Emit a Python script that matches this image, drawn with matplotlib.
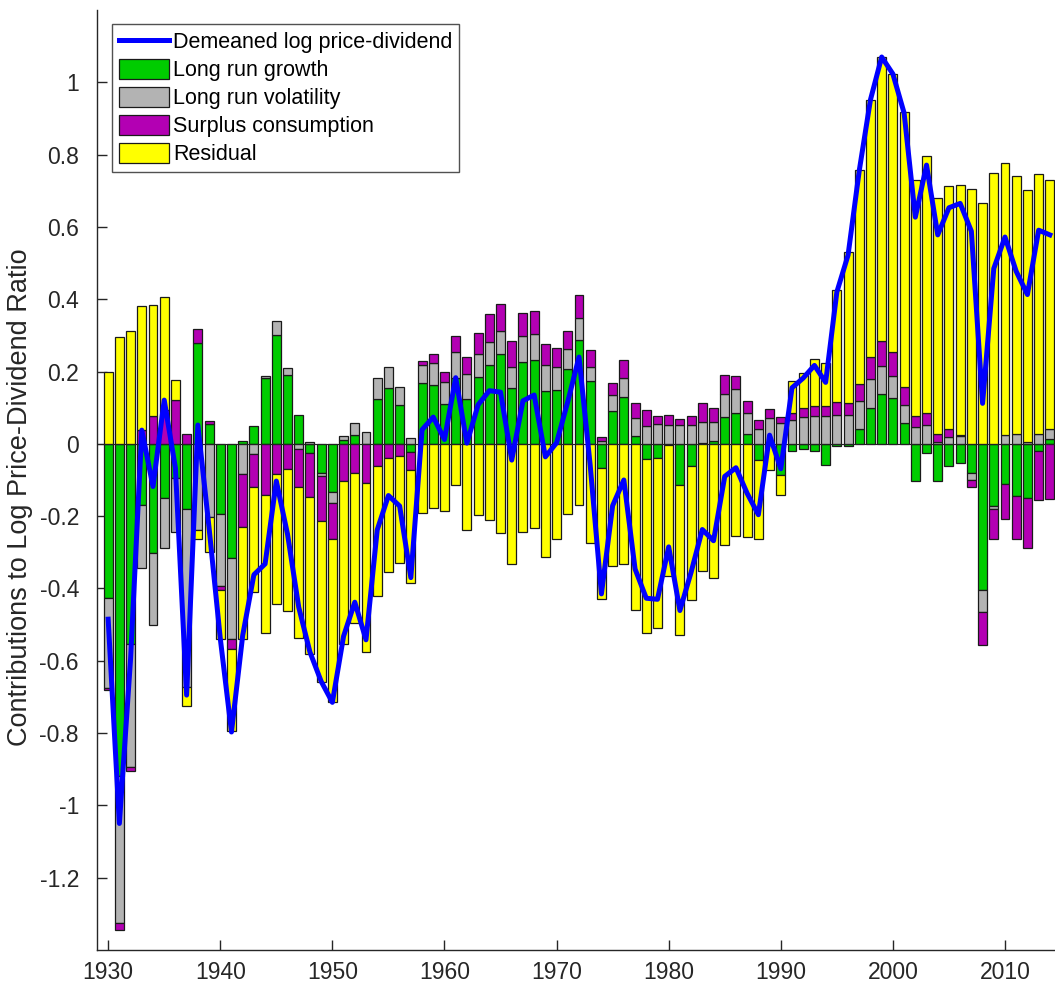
import numpy as np
import matplotlib.pyplot as plt

plt.rcParams['font.family'] = ['Liberation Sans', 'DejaVu Sans']
plt.rcParams['axes.unicode_minus'] = False

years = np.arange(1930, 2015)

# contributions to the log price-dividend ratio, by component
long_run_growth = [
    -0.425, -0.919, -0.554, -0.168, -0.301, -0.151, -0.095, -0.180, 0.279, 0.054,
    -0.195, -0.315, 0.007, 0.048, 0.181, 0.301, 0.191, 0.081, -0.025, -0.082,
    -0.133, 0.010, 0.025, 0.000, 0.124, 0.155, 0.108, -0.023, 0.167, 0.164,
    0.110, 0.182, 0.124, 0.185, 0.218, 0.248, 0.154, 0.227, 0.231, 0.145,
    0.149, 0.207, 0.288, 0.173, -0.066, 0.092, 0.129, 0.021, -0.043, -0.039,
    -0.004, -0.114, -0.060, 0.003, 0.009, 0.075, 0.086, 0.026, -0.044, 0.000,
    -0.086, -0.021, -0.014, -0.020, -0.058, -0.007, -0.006, 0.040, 0.100, 0.139,
    0.126, 0.059, -0.104, -0.026, -0.104, -0.062, -0.053, -0.081, -0.403, -0.171,
    -0.111, -0.145, -0.150, -0.021, 0.013,
]
long_run_volatility = [
    -0.250, -0.406, -0.341, -0.175, -0.200, -0.136, -0.149, -0.492, -0.239, -0.201,
    -0.198, -0.224, -0.084, -0.028, 0.007, 0.038, 0.018, -0.014, 0.004, -0.007,
    -0.030, 0.011, 0.033, 0.032, 0.058, 0.057, 0.050, 0.015, 0.050, 0.061,
    0.060, 0.072, 0.069, 0.064, 0.064, 0.064, 0.059, 0.070, 0.073, 0.074,
    0.064, 0.054, 0.061, 0.039, 0.007, 0.042, 0.052, 0.051, 0.049, 0.054,
    0.052, 0.052, 0.051, 0.057, 0.052, 0.064, 0.066, 0.060, 0.041, 0.071,
    0.057, 0.065, 0.073, 0.076, 0.076, 0.081, 0.079, 0.079, 0.079, 0.076,
    0.061, 0.049, 0.046, 0.053, 0.004, 0.020, 0.022, -0.018, -0.063, -0.008,
    0.025, 0.026, 0.005, 0.028, 0.028,
]
surplus_consumption = [
    -0.007, -0.020, -0.010, 0.038, 0.078, 0.095, 0.122, 0.026, 0.039, 0.009,
    -0.012, -0.028, -0.147, -0.092, -0.142, -0.084, -0.069, -0.105, -0.122, -0.124,
    -0.101, -0.103, -0.080, -0.108, -0.062, -0.039, -0.034, -0.048, 0.012, 0.024,
    0.029, 0.043, 0.046, 0.057, 0.076, 0.076, 0.072, 0.066, 0.064, 0.058,
    0.052, 0.052, 0.062, 0.047, 0.012, 0.033, 0.052, 0.041, 0.046, 0.024,
    0.027, 0.017, 0.026, 0.053, 0.038, 0.051, 0.035, 0.032, 0.024, 0.025,
    0.016, 0.021, 0.027, 0.029, 0.029, 0.034, 0.035, 0.047, 0.061, 0.069,
    0.067, 0.049, 0.031, 0.033, 0.022, 0.020, 0.003, -0.021, -0.089, -0.084,
    -0.096, -0.118, -0.138, -0.135, -0.152,
]
residual = [
    0.200, 0.295, 0.311, 0.342, 0.307, 0.311, 0.055, -0.053, -0.025, -0.098,
    -0.135, -0.228, -0.309, -0.291, -0.380, -0.359, -0.393, -0.417, -0.433, -0.447,
    -0.451, -0.451, -0.416, -0.468, -0.359, -0.316, -0.295, -0.315, -0.191, -0.177,
    -0.186, -0.114, -0.237, -0.198, -0.211, -0.246, -0.331, -0.243, -0.233, -0.313,
    -0.262, -0.193, -0.170, -0.273, -0.362, -0.338, -0.333, -0.459, -0.481, -0.470,
    -0.362, -0.415, -0.372, -0.351, -0.370, -0.281, -0.255, -0.257, -0.219, -0.072,
    -0.056, 0.088, 0.096, 0.131, 0.120, 0.310, 0.416, 0.592, 0.712, 0.786,
    0.770, 0.760, 0.654, 0.710, 0.655, 0.672, 0.690, 0.706, 0.667, 0.748,
    0.753, 0.714, 0.697, 0.717, 0.689,
]
log_pd = [
    -0.485, -1.050, -0.594, 0.038, -0.118, 0.121, -0.067, -0.695, 0.052, -0.232,
    -0.538, -0.797, -0.530, -0.362, -0.332, -0.103, -0.250, -0.452, -0.576, -0.657,
    -0.715, -0.532, -0.438, -0.542, -0.238, -0.143, -0.172, -0.370, 0.039, 0.074,
    0.012, 0.183, 0.002, 0.108, 0.147, 0.143, -0.045, 0.119, 0.135, -0.036,
    0.003, 0.117, 0.240, -0.060, -0.415, -0.171, -0.100, -0.346, -0.427, -0.430,
    -0.285, -0.461, -0.355, -0.237, -0.268, -0.090, -0.066, -0.137, -0.196, 0.024,
    -0.069, 0.155, 0.182, 0.217, 0.170, 0.420, 0.522, 0.756, 0.952, 1.070,
    1.023, 0.915, 0.627, 0.771, 0.578, 0.653, 0.665, 0.588, 0.112, 0.485,
    0.572, 0.477, 0.413, 0.591, 0.578,
]

y_ticks = [-1.2, -1.0, -0.8, -0.6, -0.4, -0.2, 0.0, 0.2, 0.4, 0.6, 0.8, 1.0]
y_tick_labels = ['-1.2', '-1', '-0.8', '-0.6', '-0.4', '-0.2', '0', '0.2', '0.4', '0.6', '0.8', '1']

components = [
    (long_run_growth, '#00CC00', 'Long run growth'),
    (long_run_volatility, '#B3B3B3', 'Long run volatility'),
    (surplus_consumption, '#B300B3', 'Surplus consumption'),
    (residual, '#FFFF00', 'Residual'),
]

fig = plt.figure(figsize=(10.55, 9.9), dpi=100)
ax = fig.add_axes([0.0919, 0.0404, 0.908, 0.9495])

# positive and negative parts stack away from zero separately
pos_base = np.zeros(len(years))
neg_base = np.zeros(len(years))
bars = []
for vals, color, label in components:
    vals = np.asarray(vals)
    base = np.where(vals >= 0, pos_base, neg_base)
    b = ax.bar(years, vals, width=0.8, bottom=base, color=color,
               edgecolor='#1a1a1a', linewidth=0.9, label=label, zorder=2)
    bars.append(b)
    pos_base += np.clip(vals, 0, None)
    neg_base += np.clip(vals, None, 0)

ax.axhline(0, color='#222222', lw=0.8, zorder=3)
line, = ax.plot(years, log_pd, color='#0000FF', lw=3.6, zorder=4,
                label='Demeaned log price-dividend')

ax.set_xlim(1929.0, 2014.45)
ax.set_ylim(-1.4, 1.2)
ax.set_xticks(np.arange(1930, 2011, 10))
ax.set_yticks(y_ticks)
ax.set_yticklabels(y_tick_labels)
ax.tick_params(direction='in', length=7, width=1, labelsize=16.5, colors='#262626')
ax.tick_params(axis='y', pad=13)
ax.tick_params(axis='x', pad=8)
ax.spines['top'].set_visible(False)
ax.spines['right'].set_visible(False)
for s in ('left', 'bottom'):
    ax.spines[s].set_color('#262626')
    ax.spines[s].set_linewidth(1.0)

ax.set_ylabel('Contributions to Log Price-Dividend Ratio', fontsize=19.5, color='#262626')
ax.yaxis.set_label_coords(-0.067, 0.482)

leg = ax.legend([line] + bars, [line.get_label()] + [c[2] for c in components],
                loc='upper left', bbox_to_anchor=(0.0157, 0.985), borderaxespad=0,
                fontsize=15.5, frameon=True, fancybox=False, edgecolor='#262626',
                handlelength=2.3, handleheight=1.0, labelspacing=0.28,
                handletextpad=0.2, borderpad=0.33)
leg.get_frame().set_linewidth(1.0)

fig.savefig('out.png', dpi=100)
